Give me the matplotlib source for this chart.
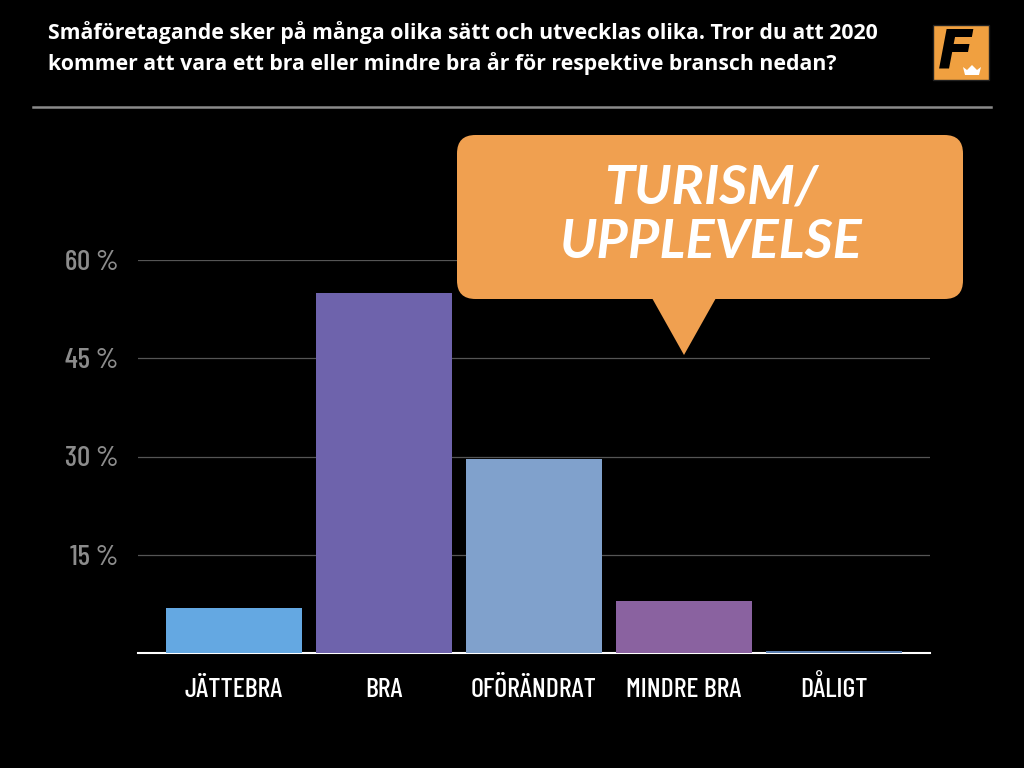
import numpy as np
import matplotlib.pyplot as plt
from matplotlib.patches import FancyBboxPatch, Polygon, Rectangle

categories = ['JÄTTEBRA', 'BRA', 'OFÖRÄNDRAT', 'MINDRE BRA', 'DÅLIGT']
values = [6.9, 55.0, 29.6, 7.9, 0.3]
colors = ['#64a8e2', '#6e63ac', '#80a1cc', '#8a62a0', '#5b7fb0']
yticks = [15, 30, 45, 60]
ytick_labels = ['15 %', '30 %', '45 %', '60 %']

title = ('Småföretagande sker på många olika sätt och utvecklas olika. Tror du att 2020\n'
         'kommer att vara ett bra eller mindre bra år för respektive bransch nedan?')
callout_text = 'TURISM/\nUPPLEVELSE'

narrow = ['Barlow Condensed', 'DejaVu Sans']

W, H = 1024, 768
fig = plt.figure(figsize=(W / 100, H / 100), dpi=100, facecolor='black')

def fx(px):
    return px / W

def fy(py):
    return 1 - py / H

# bars
ax = fig.add_axes([fx(138), fy(653), fx(930) - fx(138), fy(260) - fy(653)])
ax.set_facecolor('black')
x = np.arange(len(categories))
ax.bar(x, values, width=0.907, color=colors, zorder=3)
ax.set_xlim(-0.64, 4.64)
ax.set_ylim(0, 60)
ax.set_yticks(yticks)
ax.set_yticklabels(ytick_labels, family=narrow, fontsize=21, fontweight='medium',
                   color='#8c8c8c')
ax.set_xticks(x)
ax.set_xticklabels(categories, family=narrow, fontsize=20, fontweight='medium',
                   color='white', va='baseline')
ax.tick_params(axis='both', length=0)
ax.tick_params(axis='y', pad=14)
ax.tick_params(axis='x', pad=31.5)
for s in ['top', 'right', 'left']:
    ax.spines[s].set_visible(False)
ax.spines['bottom'].set_color('white')
ax.spines['bottom'].set_linewidth(1.5)
ax.grid(axis='y', color='#555555', linewidth=0.9, zorder=0)
ax.set_axisbelow(True)

# title + rule
fig.text(fx(48), fy(48), title, ha='left', va='center', color='white',
         fontsize=15.3, fontweight='bold', family=['Open Sans', 'DejaVu Sans'],
         linespacing=1.42)
fig.add_artist(plt.Line2D([fx(33), fx(991)], [fy(107), fy(107)],
                          color='#8a8a8a', linewidth=1.8))

# speech bubble
bubble = FancyBboxPatch((fx(457), fy(299)), fx(963) - fx(457), fy(135) - fy(299),
                        boxstyle='round,pad=0,rounding_size=0.018',
                        transform=fig.transFigure, facecolor='#f0a050',
                        edgecolor='none', zorder=10, mutation_aspect=W / H)
fig.add_artist(bubble)
tri = Polygon([[fx(652), fy(298)], [fx(716), fy(298)], [fx(684), fy(355)]],
              closed=True, transform=fig.transFigure, facecolor='#f0a050',
              edgecolor='none', zorder=10)
fig.add_artist(tri)
fig.text(fx(711), fy(215), callout_text, ha='center', va='center', color='white',
         fontsize=39, fontweight='bold', style='italic',
         family=['Lato', 'DejaVu Sans'], linespacing=1.15, zorder=11)

# logo
logo = Rectangle((fx(933), fy(80)), fx(989) - fx(933), fy(25) - fy(80),
                 transform=fig.transFigure, facecolor='#f0a040',
                 edgecolor='#222222', linewidth=1, zorder=10)
fig.add_artist(logo)
fig.text(fx(956), fy(53), 'F', ha='center', va='center', color='black',
         fontsize=38, fontweight='bold', style='italic',
         family=['DejaVu Sans'], zorder=11)
crown = Polygon([[fx(965), fy(75)], [fx(979), fy(75)], [fx(981), fy(67)],
                 [fx(977), fy(70)], [fx(972), fy(65)], [fx(967), fy(70)],
                 [fx(963), fy(67)]],
                closed=True, transform=fig.transFigure, facecolor='white',
                edgecolor='none', zorder=12)
fig.add_artist(crown)

fig.savefig('out.png', dpi=100, facecolor='black')
